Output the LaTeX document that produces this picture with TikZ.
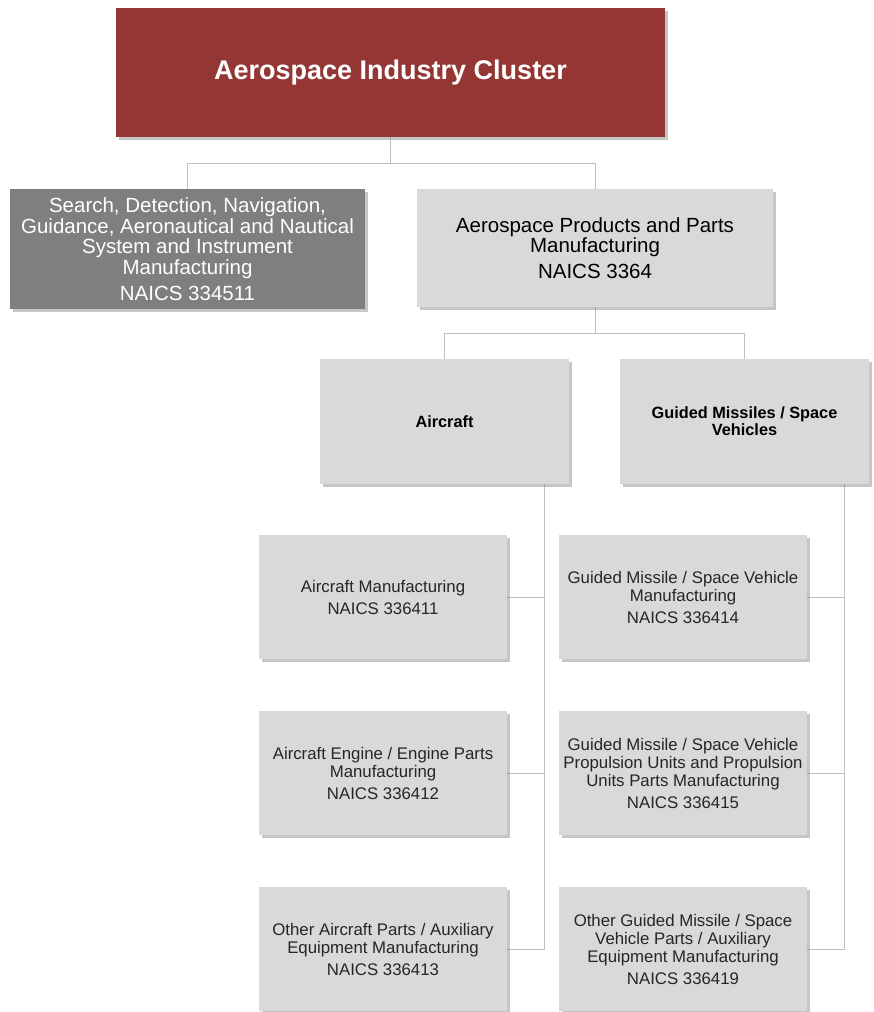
\documentclass[tikz,border=0pt]{standalone}
\usepackage{fontspec}
\setmainfont{Liberation Sans}
\usepackage{tikz}
\usetikzlibrary{shadows,backgrounds}

\definecolor{clusterred}{RGB}{148,55,52}
\definecolor{darkbox}{RGB}{127,127,127}
\definecolor{lightbox}{RGB}{217,217,217}
\definecolor{linegray}{RGB}{191,191,191}
\definecolor{smalltext}{RGB}{38,38,38}

\tikzset{
  box/.style={rectangle, inner sep=0pt, align=center, fill=lightbox,
    drop shadow={shadow xshift=2.5pt, shadow yshift=-3pt, opacity=.45}},
  midbox/.style={box, minimum width=356pt, minimum height=119pt,
    font=\fontsize{20.5}{20.7}\selectfont},
  groupbox/.style={box, minimum width=249pt, minimum height=125pt,
    font=\bfseries\fontsize{16.3}{17}\selectfont},
  leafbox/.style={box, minimum width=248pt, minimum height=124pt,
    text=smalltext, font=\fontsize{16.8}{18}\selectfont},
  conn/.style={draw=linegray, line width=0.9pt}
}

\begin{document}
\begin{tikzpicture}[x=1pt,y=-1pt]
\useasboundingbox (0,0) rectangle (873,1012);

\node[box, fill=clusterred, text=white, minimum width=549pt, minimum height=129pt,
  font=\bfseries\fontsize{27}{30}\selectfont] (cluster) at (390.5,72.5) {Aerospace Industry Cluster};

\node[midbox, fill=darkbox, text=white, minimum width=355pt, minimum height=120pt] (search) at (187.5,249)
  {Search, Detection, Navigation,\\ Guidance, Aeronautical and Nautical\\ System and Instrument\\ Manufacturing\\[5pt] NAICS 334511};
\node[midbox, minimum height=118pt] (products) at (595,248)
  {Aerospace Products and Parts\\ Manufacturing\\[5pt] NAICS 3364};

\node[groupbox] (aircraft) at (444.5,421.5) {Aircraft};
\node[groupbox] (missiles) at (744.5,421.5) {Guided Missiles / Space\\ Vehicles};

\node[leafbox] (am1) at (383,597) {Aircraft Manufacturing\\[4pt] NAICS 336411};
\node[leafbox] (am2) at (383,773) {Aircraft Engine / Engine Parts\\ Manufacturing\\[4pt] NAICS 336412};
\node[leafbox] (am3) at (383,949) {Other Aircraft Parts / Auxiliary\\ Equipment Manufacturing\\[4pt] NAICS 336413};

\node[leafbox] (gm1) at (683,597) {Guided Missile / Space Vehicle\\ Manufacturing\\[4pt] NAICS 336414};
\node[leafbox] (gm2) at (683,773) {Guided Missile / Space Vehicle\\ Propulsion Units and Propulsion\\ Units Parts Manufacturing\\[4pt] NAICS 336415};
\node[leafbox] (gm3) at (683,949) {Other Guided Missile / Space\\ Vehicle Parts / Auxiliary\\ Equipment Manufacturing\\[4pt] NAICS 336419};

% connectors
\begin{scope}[on background layer]
\draw[conn] (cluster.south) -- ++(0,26) -| (search.north);
\draw[conn] (cluster.south) -- ++(0,26) -| (products.north);
\draw[conn] (products.south) -- ++(0,26) -| (aircraft.north);
\draw[conn] (products.south) -- ++(0,26) -| (missiles.north);

\coordinate (aspine) at ([xshift=-25pt]aircraft.south east);
\coordinate (gspine) at ([xshift=-25pt]missiles.south east);
\draw[conn] (aspine) |- (am3.east);
\draw[conn] (gspine) |- (gm3.east);
\foreach \n in {am1,am2}
  \draw[conn] (\n.east) -- (\n.east -| aspine);
\foreach \n in {gm1,gm2}
  \draw[conn] (\n.east) -- (\n.east -| gspine);
\end{scope}

\end{tikzpicture}
\end{document}
